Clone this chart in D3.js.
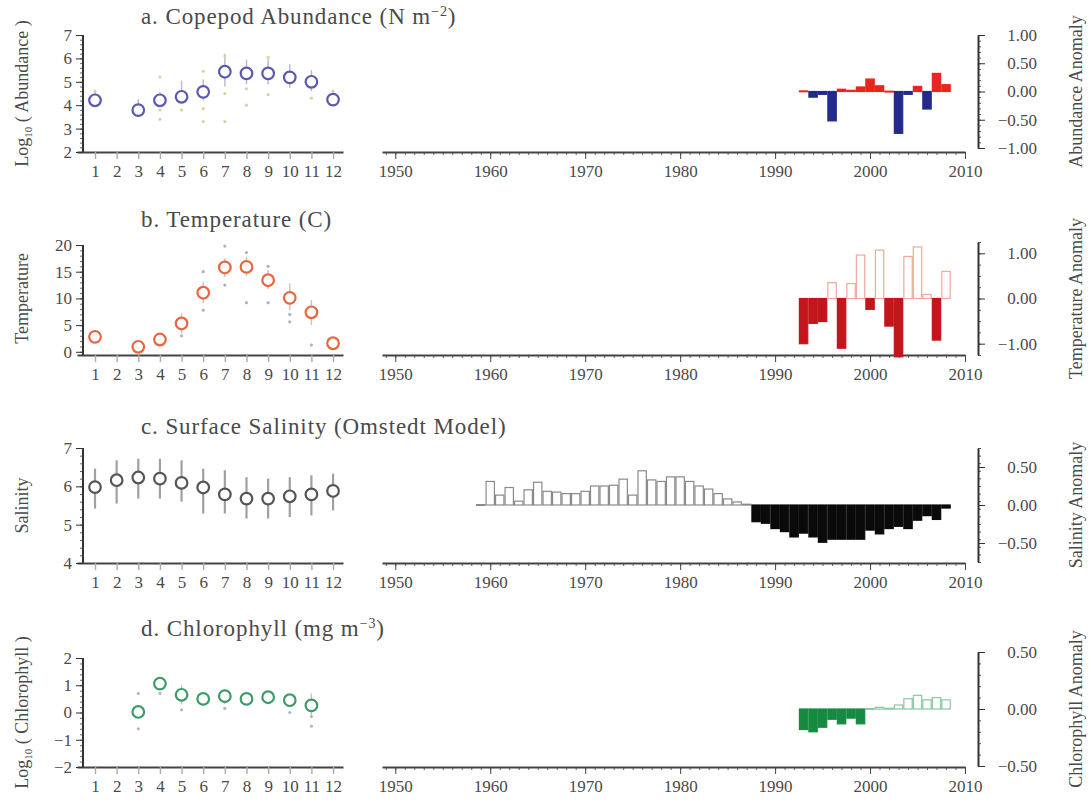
<!DOCTYPE html>
<html>
<head>
<meta charset="utf-8">
<script src="https://cdn.jsdelivr.net/npm/d3@7"></script>
<style>
  body { margin: 0; background: #fff; }
  text { font-family: "Liberation Serif", "Times New Roman", serif; fill: #4a4a4a; }
</style>
</head>
<body>
<script>
// month categories (left column)
const months = [1, 2, 3, 4, 5, 6, 7, 8, 9, 10, 11, 12];

// a. copepod abundance, log10 means + spread
const abundMean = [4.21, null, 3.79, 4.21, 4.36, 4.57, 5.43, 5.36, 5.36, 5.19, 5.0, 4.24];
const abundLo   = [3.95, null, 3.55, 3.95, 4.2, 4.2, 4.8, 4.9, 4.9, 4.75, 4.6, 4.0];
const abundHi   = [4.6, null, 4.25, 4.55, 5.05, 5.1, 6.2, 5.95, 6.0, 5.75, 5.5, 4.55];
const abundDots = [[1, 4.6], [4, 5.2], [4, 3.8], [4, 3.4], [5, 3.8], [6, 5.45], [6, 3.85], [6, 3.3],
  [7, 6.1], [7, 4.5], [7, 3.3], [8, 4.7], [8, 4.0], [9, 6.05], [9, 4.45], [11, 4.3], [12, 4.6]];

// b. temperature
const tempMean = [2.8, null, 0.94, 2.3, 5.3, 11.06, 15.8, 15.9, 13.4, 10.1, 7.4, 1.6];
const tempLo   = [2.2, null, 0.4, 1.6, 3.4, 9.1, 14.0, 14.2, 11.8, 7.8, 5.0, 1.0];
const tempHi   = [3.5, null, 1.6, 3.2, 7.2, 13.1, 17.5, 17.8, 15.3, 12.8, 9.7, 2.2];
const tempDots = [[5, 3.0], [6, 15.0], [6, 7.8], [7, 19.8], [7, 12.5], [8, 18.6], [8, 9.2],
  [9, 16.0], [9, 9.2], [10, 7.0], [10, 5.6], [11, 1.25]];

// c. surface salinity
const salMean = [5.98, 6.16, 6.23, 6.2, 6.09, 5.97, 5.79, 5.68, 5.68, 5.74, 5.79, 5.88];
const salLo   = [5.42, 5.55, 5.68, 5.68, 5.6, 5.29, 5.29, 5.16, 5.16, 5.2, 5.24, 5.37];
const salHi   = [6.46, 6.68, 6.72, 6.72, 6.68, 6.46, 6.42, 6.24, 6.2, 6.24, 6.29, 6.33];

// d. chlorophyll
const chlMean = [null, null, 0.02, 1.06, 0.65, 0.5, 0.6, 0.5, 0.56, 0.45, 0.26, null];
const chlLo   = [null, null, -0.15, 0.85, 0.3, 0.25, 0.3, 0.25, 0.35, 0.2, -0.1, null];
const chlHi   = [null, null, 0.2, 1.25, 1.0, 0.7, 0.85, 0.7, 0.7, 0.65, 0.7, null];
const chlDots = [[3, 0.7], [3, -0.6], [4, 0.7], [5, 0.1], [7, 0.15], [10, 0.0], [11, -0.15], [11, -0.5]];

// anomaly years and values (right column)
const yearsShort = [1993, 1994, 1995, 1996, 1997, 1998, 1999, 2000, 2001, 2002, 2003, 2004, 2005, 2006, 2007, 2008];
const abundAnom = [0.01, -0.1, -0.05, -0.52, 0.04, 0.02, 0.08, 0.22, 0.1, 0.005, -0.74, -0.05, 0.09, -0.31, 0.32, 0.12];
const tempAnom  = [-1.0, -0.55, -0.51, 0.35, -1.1, 0.33, 0.96, -0.24, 1.07, -0.61, -1.29, 0.93, 1.14, 0.09, -0.92, 0.6];
const chlAnom   = [-0.18, -0.2, -0.16, -0.09, -0.13, -0.08, -0.13, 0.004, 0.015, 0.006, 0.035, 0.09, 0.12, 0.08, 0.1, 0.08];

const yearsLong = [1959, 1960, 1961, 1962, 1963, 1964, 1965, 1966, 1967, 1968, 1969, 1970, 1971, 1972, 1973,
  1974, 1975, 1976, 1977, 1978, 1979, 1980, 1981, 1982, 1983, 1984, 1985, 1986, 1987, 1988, 1989, 1990,
  1991, 1992, 1993, 1994, 1995, 1996, 1997, 1998, 1999, 2000, 2001, 2002, 2003, 2004, 2005, 2006, 2007, 2008];
const salAnom = [0.005, 0.31, 0.13, 0.23, 0.05, 0.2, 0.3, 0.18, 0.17, 0.15, 0.15, 0.18, 0.25, 0.25, 0.26,
  0.34, 0.13, 0.45, 0.33, 0.31, 0.37, 0.37, 0.31, 0.25, 0.21, 0.15, 0.08, 0.04, 0.01, -0.22, -0.24, -0.31,
  -0.35, -0.42, -0.37, -0.42, -0.49, -0.45, -0.45, -0.45, -0.45, -0.33, -0.38, -0.31, -0.28, -0.31, -0.2,
  -0.14, -0.19, -0.04];

// tick labels
const yearTicks = [1950, 1960, 1970, 1980, 1990, 2000, 2010];

const W = 1091, H = 804;
const svg = d3.select("body").append("svg").attr("width", W).attr("height", H);

// shared horizontal scales
const xm = d3.scaleLinear().domain([0.168, 12.46]).range([77, 343]);
const xy = d3.scaleLinear().domain([1948.6, 2010]).range([382, 965]);
const yAxisX = 83, rAxisX = 978;

// panel layout, one per row
const panels = [
  { title: ["a. Copepod Abundance (N m", "\u22122", ")"], titleY: 24,
    ylab: ["Log", "10", " ( Abundance )"], rlab: "Abundance Anomaly",
    axisY: 152, lDom: [2, 7], lTop: 35, lTicks: [2, 3, 4, 5, 6, 7], lMinor: 0.2,
    rDom: [-1, 1], rRange: [148, 35], rTicks: [-1, -0.5, 0, 0.5, 1], rMinor: 0.1,
    mean: abundMean, lo: abundLo, hi: abundHi, dots: abundDots,
    circ: "#5a58b2", err: "#b8b8cc", dotC: "#d8d2a8",
    years: yearsShort, anom: abundAnom, pos: { fill: "#e8251e", stroke: "#e8251e" }, neg: { fill: "#232a8a", stroke: "#232a8a" } },
  { title: ["b. Temperature (C)"], titleY: 227,
    ylab: ["Temperature"], rlab: "Temperature Anomaly",
    axisY: 355, lDom: [-0.6, 20], lTop: 245, lTicks: [0, 5, 10, 15, 20], lMinor: 1,
    rDom: [-1.25, 1.25], rRange: [355, 242], rTicks: [-1, 0, 1], rMinor: 0.25,
    mean: tempMean, lo: tempLo, hi: tempHi, dots: tempDots,
    circ: "#e8653e", err: "#c8c0c0", dotC: "#a8b4c8",
    years: yearsShort, anom: tempAnom, pos: { fill: "#fff", stroke: "#f0a898" }, neg: { fill: "#c3161c", stroke: "#c3161c" } },
  { title: ["c. Surface Salinity (Omstedt Model)"], titleY: 434,
    ylab: ["Salinity"], rlab: "Salinity Anomaly",
    axisY: 563, lDom: [4, 7], lTop: 448, lTicks: [4, 5, 6, 7], lMinor: 0.2,
    rDom: [-0.75, 0.75], rRange: [562, 448], rTicks: [-0.5, 0, 0.5], rMinor: 0.1,
    mean: salMean, lo: salLo, hi: salHi, dots: [],
    circ: "#555", err: "#a0a0a0", errW: 2.2, dotC: "#aaa",
    years: yearsLong, anom: salAnom, pos: { fill: "#fff", stroke: "#8a8a8a" }, neg: { fill: "#0a0a0a", stroke: "#0a0a0a" } },
  { title: ["d. Chlorophyll (mg m", "\u22123", ")"], titleY: 636,
    ylab: ["Log", "10", " ( Chlorophyll )"], rlab: "Chlorophyll Anomaly",
    axisY: 767, lDom: [-2, 2], lTop: 658, lTicks: [-2, -1, 0, 1, 2], lMinor: 0.2,
    rDom: [-0.5, 0.5], rRange: [766, 652], rTicks: [-0.5, 0, 0.5], rMinor: 0.1,
    mean: chlMean, lo: chlLo, hi: chlHi, dots: chlDots,
    circ: "#3d9c66", err: "#b8c8c0", dotC: "#b8b8b8",
    years: yearsShort, anom: chlAnom, pos: { fill: "#fff", stroke: "#86c8a0" }, neg: { fill: "#178a42", stroke: "#178a42" } }
];

function minorValues(dom, step) {
  const out = [];
  const n = Math.round((dom[1] - dom[0]) / step);
  for (let i = 0; i <= n; i++) out.push(+(dom[0] + i * step).toFixed(4));
  return out;
}

const minus = s => s.replace("-", "\u2212");

function styleAxis(sel, col) {
  sel.select(".domain").attr("stroke", col).attr("stroke-width", 2);
  sel.selectAll(".tick line").attr("stroke", col);
  sel.selectAll(".tick text").style("font-size", "17px").attr("fill", "#4a4a4a");
}

panels.forEach(p => {
  const g = svg.append("g");

  // title
  const t = g.append("text").attr("x", 141).attr("y", p.titleY)
    .style("font-size", "23px").style("letter-spacing", "0.9px");
  t.append("tspan").text(p.title[0]);
  if (p.title.length > 1) {
    t.append("tspan").text(p.title[1]).attr("dy", -8).style("font-size", "14px");
    t.append("tspan").text(p.title[2]).attr("dy", 8);
  }

  // ----- left: monthly climatology -----
  const yl = d3.scaleLinear().domain(p.lDom).range([p.axisY, p.lTop]);

  const gx = g.append("g").attr("transform", `translate(0,${p.axisY})`)
    .call(d3.axisBottom(xm).tickValues(months).tickSize(7).tickSizeOuter(0).tickPadding(6));
  styleAxis(gx, "#444");
  gx.selectAll(".tick line").attr("stroke", "#aaa").attr("stroke-width", 1.4);

  const lmaj = [p.lTicks[0], p.lTicks[p.lTicks.length - 1]];
  const gyMinor = g.append("g").attr("transform", `translate(${yAxisX},0)`)
    .call(d3.axisLeft(yl).tickValues(minorValues([lmaj[0], lmaj[1]], p.lMinor)).tickSize(3).tickFormat(""));
  gyMinor.select(".domain").remove();
  gyMinor.selectAll(".tick line").attr("stroke", "#666");
  const gy = g.append("g").attr("transform", `translate(${yAxisX},0)`)
    .call(d3.axisLeft(yl).tickValues(p.lTicks).tickSize(7).tickSizeOuter(0).tickPadding(4)
      .tickFormat(d => minus(d3.format("d")(d))));
  styleAxis(gy, "#333");
  gy.select(".domain").attr("d", `M0,${yl(lmaj[1])}V${p.axisY}`);

  // y label (rotated)
  const ymid = (yl(lmaj[0]) + yl(lmaj[1])) / 2;
  const yt = g.append("text").attr("transform", `translate(28,${ymid}) rotate(-90)`)
    .attr("text-anchor", "middle").style("font-size", "18px");
  yt.append("tspan").text(p.ylab[0]);
  if (p.ylab.length > 1) {
    yt.append("tspan").text(p.ylab[1]).attr("dy", 4).style("font-size", "11px");
    yt.append("tspan").text(p.ylab[2]).attr("dy", -4);
  }

  const pts = months.map((m, i) => ({ m, v: p.mean[i], lo: p.lo[i], hi: p.hi[i] })).filter(d => d.v != null);

  g.append("g").selectAll("line").data(pts).join("line")
    .attr("x1", d => xm(d.m)).attr("x2", d => xm(d.m))
    .attr("y1", d => yl(d.hi)).attr("y2", d => yl(d.lo))
    .attr("stroke", p.err).attr("stroke-width", p.errW || 1.4);

  g.append("g").selectAll("circle").data(p.dots).join("circle")
    .attr("cx", d => xm(d[0])).attr("cy", d => yl(d[1])).attr("r", 1.6)
    .attr("fill", p.dotC);

  g.append("g").selectAll("circle").data(pts).join("circle")
    .attr("cx", d => xm(d.m)).attr("cy", d => yl(d.v)).attr("r", 5.8)
    .attr("fill", "#fff").attr("stroke", p.circ).attr("stroke-width", 2.2);

  // ----- right: yearly anomalies -----
  const yr = d3.scaleLinear().domain(p.rDom).range(p.rRange);

  const gxm = g.append("g").attr("transform", `translate(0,${p.axisY})`)
    .call(d3.axisBottom(xy).tickValues(minorValues([1949, 2010], 1)).tickSize(3).tickFormat(""));
  gxm.select(".domain").remove();
  gxm.selectAll(".tick line").attr("stroke", "#666");
  const gxy = g.append("g").attr("transform", `translate(0,${p.axisY})`)
    .call(d3.axisBottom(xy).tickValues(yearTicks).tickSize(7).tickSizeOuter(0).tickPadding(6)
      .tickFormat(d3.format("d")));
  styleAxis(gxy, "#444");

  const bars = p.years.map((y, i) => ({ y, v: p.anom[i] }));
  g.append("g").selectAll("rect").data(bars).join("rect")
    .attr("x", d => xy(d.y - 0.44))
    .attr("width", xy(1950.88) - xy(1950))
    .attr("y", d => yr(Math.max(0, d.v)))
    .attr("height", d => Math.max(0.8, Math.abs(yr(d.v) - yr(0))))
    .attr("fill", d => d.v >= 0 ? p.pos.fill : p.neg.fill)
    .attr("stroke", d => d.v >= 0 ? p.pos.stroke : p.neg.stroke)
    .attr("stroke-width", 1.2);

  const grMinor = g.append("g").attr("transform", `translate(${rAxisX},0)`)
    .call(d3.axisRight(yr).tickValues(minorValues(p.rDom, p.rMinor)).tickSize(3).tickFormat(""));
  grMinor.select(".domain").remove();
  grMinor.selectAll(".tick line").attr("stroke", "#555");
  const gr = g.append("g").attr("transform", `translate(${rAxisX},0)`)
    .call(d3.axisRight(yr).tickValues(p.rTicks).tickSize(7).tickSizeOuter(0)
      .tickFormat(d => minus(d3.format(".2f")(d))));
  styleAxis(gr, "#333");
  gr.selectAll(".tick text").attr("text-anchor", "end").attr("x", 59);

  g.append("text").attr("transform", `translate(1076,${(p.rRange[0] + p.rRange[1]) / 2}) rotate(-90)`)
    .attr("text-anchor", "middle").attr("dy", "0.35em").style("font-size", "18px").text(p.rlab);
});
</script>
</body>
</html>
